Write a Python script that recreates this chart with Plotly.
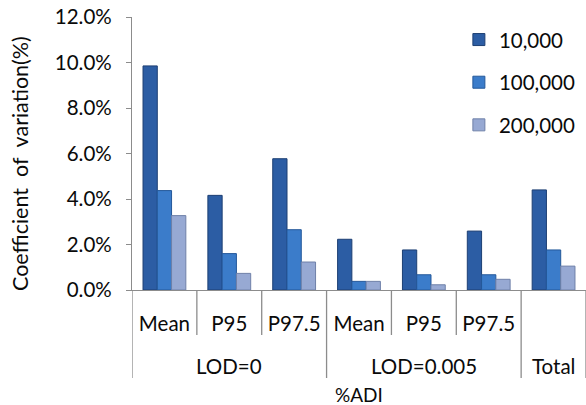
import plotly.graph_objects as go

# ---- data ----
inner_labels = ["Mean", "P95", "P97.5", "Mean", "P95", "P97.5", ""]
group_labels = ["LOD=0", "LOD=0", "LOD=0", "LOD=0.005", "LOD=0.005", "LOD=0.005", "Total"]
series_names = ["10,000", "100,000", "200,000"]
cv_10000 = [9.85, 4.16, 5.77, 2.23, 1.76, 2.59, 4.40]
cv_100000 = [4.37, 1.60, 2.65, 0.38, 0.67, 0.67, 1.76]
cv_200000 = [3.27, 0.73, 1.23, 0.38, 0.23, 0.47, 1.05]
y_ticks = [0, 2, 4, 6, 8, 10, 12]

FONT = "Lato"
FS = 20.5
TXT = "#0a0a0a"
AX = "#8c8c8c"
colors = ["#2c5da4", "#3b7cca", "#97a9d3"]
edges = ["#1d3f73", "#24589a", "#6f80a8"]

W, H = 586, 405
ML, MT, MB, MR = 132, 17, 115, 0
ph = H - MT - MB

x = list(range(len(inner_labels)))
fig = go.Figure()
for name, vals, c, e in zip(series_names, [cv_10000, cv_100000, cv_200000], colors, edges):
    fig.add_trace(go.Bar(x=x, y=vals, name=name, legendgroup=name,
                         marker=dict(color=c, line=dict(color=e, width=1))))

def py(px_below):
    return -px_below / ph

shapes = []
n = len(inner_labels)
bounds = [-0.5] + [i + 0.5 for i in range(n - 1)] + [n - 0.5]
for k, b in enumerate(bounds):
    if k == 0 or k == len(bounds) - 1:
        long = True
    else:
        i = k - 1
        long = group_labels[i] != group_labels[i + 1]
    shapes.append(dict(type="line", xref="x", yref="paper", x0=b, x1=b,
                       y0=0, y1=py(88 if long else 45),
                       line=dict(color=AX, width=1.3)))

annotations = []
groups = []
for i, g in enumerate(group_labels):
    if not groups or groups[-1][0] != g:
        groups.append([g, i, i])
    else:
        groups[-1][2] = i
for g, a, b in groups:
    annotations.append(dict(text=g, x=(a + b) / 2, xref="x", y=py(76), yref="paper",
                            showarrow=False, yanchor="middle",
                            font=dict(size=FS, color=TXT, family=FONT)))
annotations.append(dict(text="%ADI", x=0.5, xref="paper", y=py(104), yref="paper",
                        showarrow=False, yanchor="middle",
                        font=dict(size=19, color=TXT, family=FONT)))
annotations.append(dict(text="Coefficient  of  variation(%)", textangle=-90,
                        x=(20 - ML) / (W - ML - MR), xref="paper",
                        y=(290 - 164) / ph, yref="paper",
                        showarrow=False, xanchor="center", yanchor="middle",
                        font=dict(size=21.5, color=TXT, family=FONT)))

fig.update_layout(
    width=W, height=H,
    margin=dict(l=ML, r=MR, t=MT, b=MB),
    paper_bgcolor="white", plot_bgcolor="white",
    font=dict(family=FONT, size=FS, color=TXT),
    barmode="group", bargap=0.34, bargroupgap=0,
    showlegend=True,
    legend=dict(x=0.72, y=0.99, xanchor="left", yanchor="top",
                font=dict(size=FS, family=FONT, color=TXT), tracegroupgap=13,
                bgcolor="rgba(0,0,0,0)"),
    shapes=shapes, annotations=annotations,
)
fig.update_xaxes(range=[-0.5, n - 0.5], tickvals=x, ticktext=inner_labels,
                 showline=True, linecolor=AX, linewidth=1.3, showgrid=False,
                 zeroline=False, ticks="", ticklabelstandoff=15,
                 tickfont=dict(size=FS, family=FONT, color=TXT))
fig.update_yaxes(range=[0, 12], tickvals=y_ticks,
                 ticktext=[f"{v:.1f}%" for v in y_ticks],
                 showline=True, linecolor=AX, linewidth=1.3, showgrid=False,
                 zeroline=False, ticks="outside", ticklen=5, tickcolor=AX,
                 ticklabelstandoff=10,
                 tickfont=dict(size=FS, family=FONT, color=TXT))

fig.write_html("out.html")
